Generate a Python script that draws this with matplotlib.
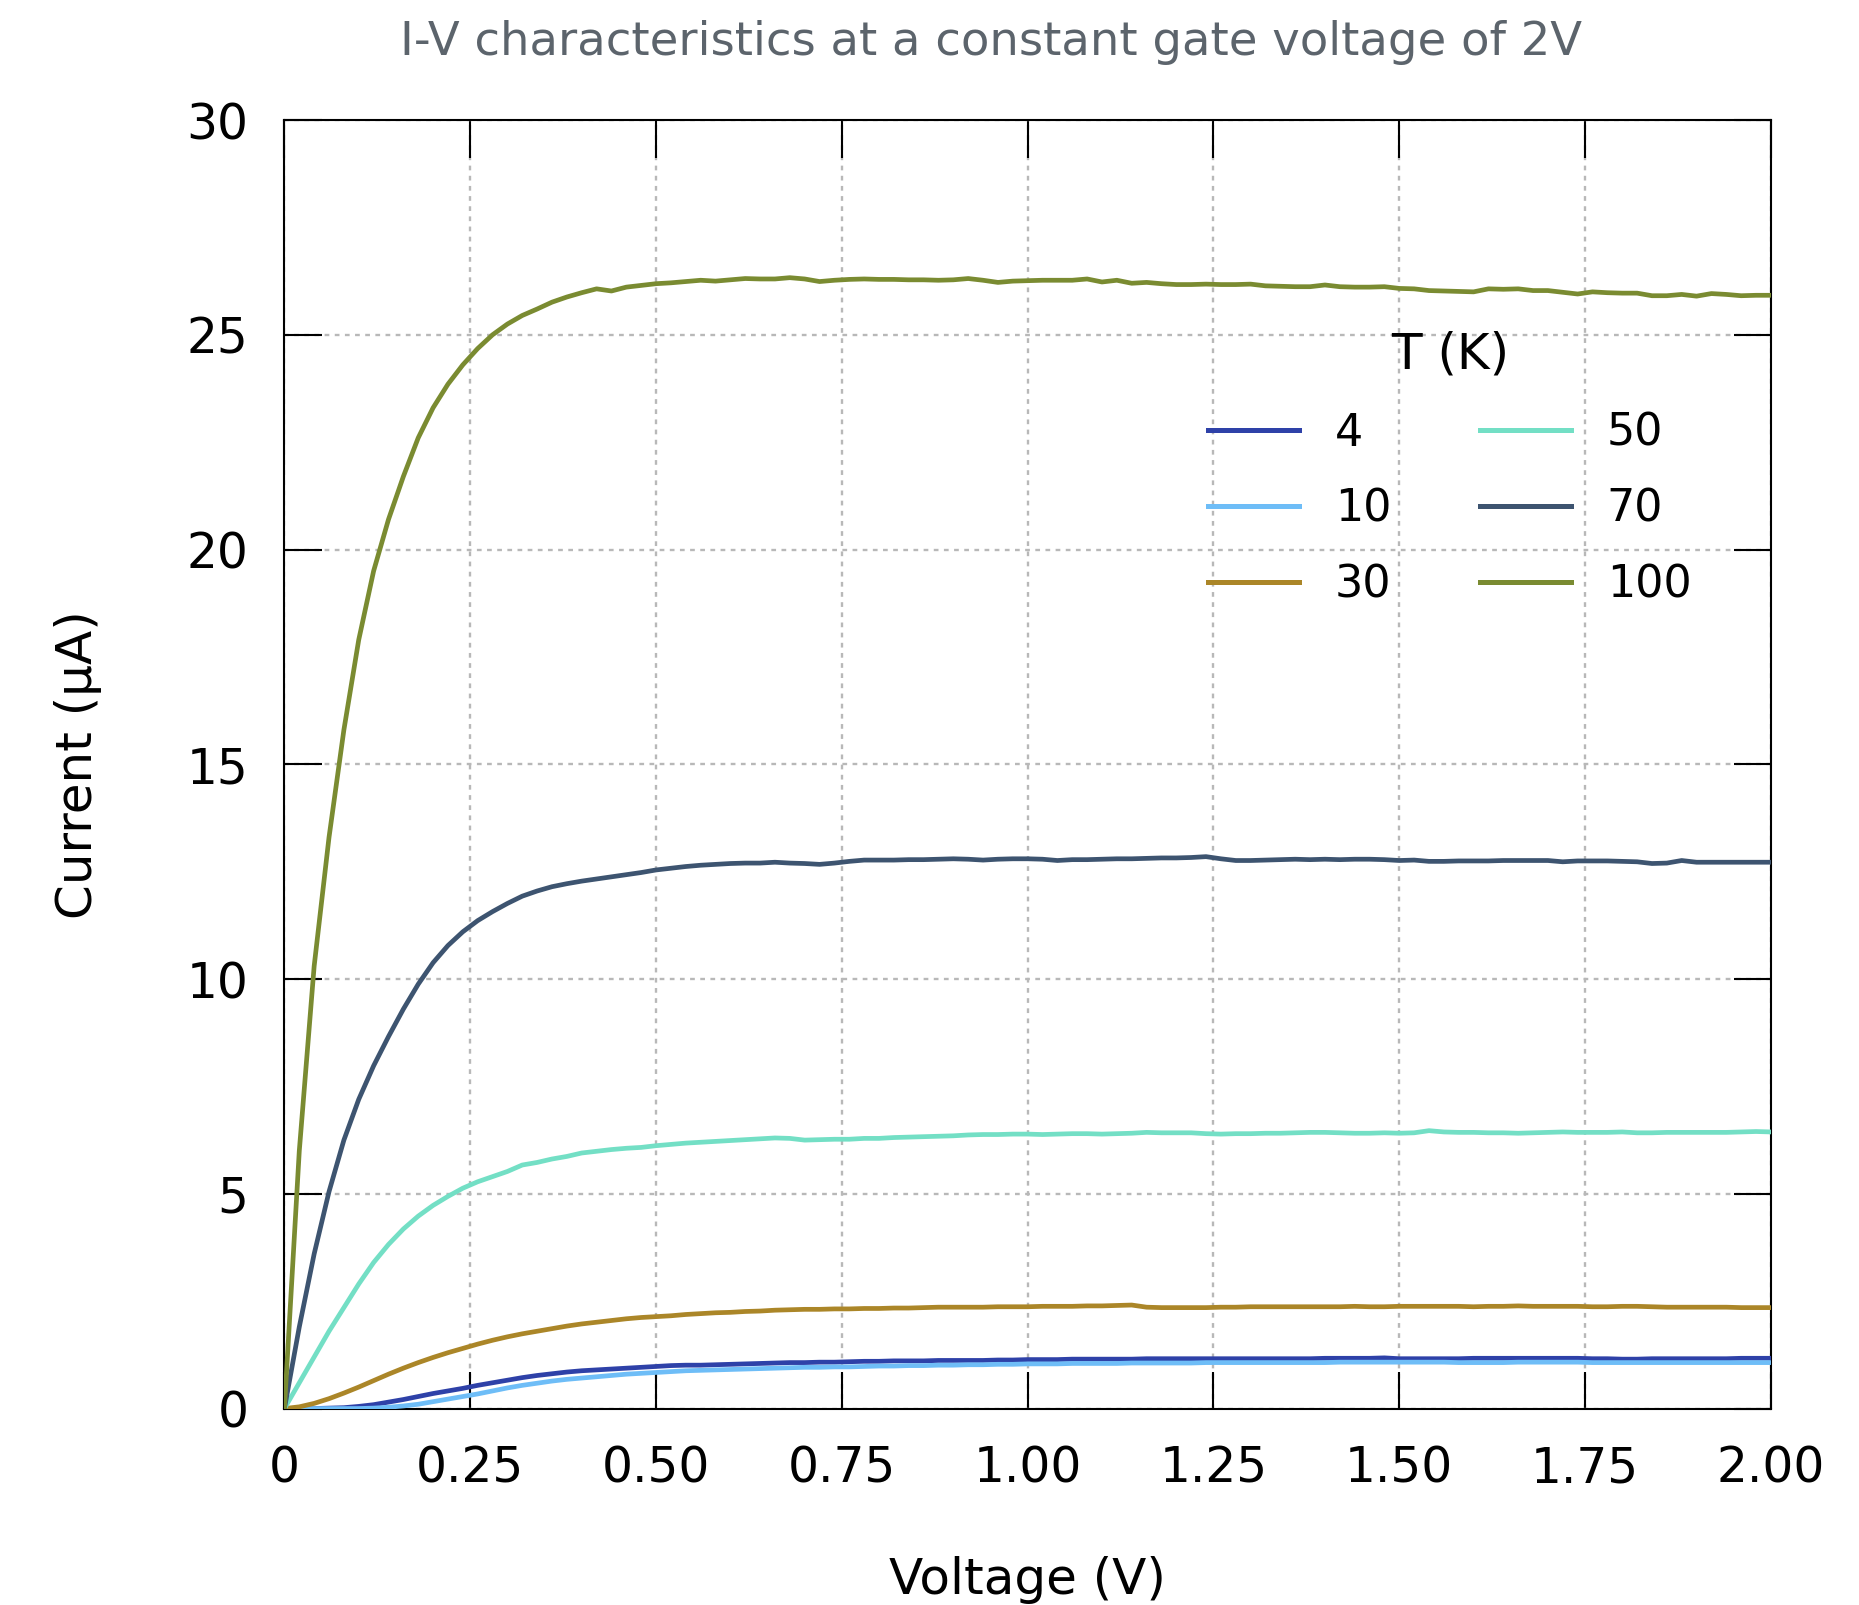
import numpy as np
import matplotlib
matplotlib.use("Agg")
import matplotlib.pyplot as plt

plt.rcParams["font.family"] = ["DejaVu Sans"]

# Voltage sweep (V), 0.02 V step
voltage = np.round(np.arange(0, 101) * 0.02, 2)

# Drain current (uA), one list per temperature
i_4K = [0, 0, 0, 0.01, 0.02, 0.05, 0.09, 0.15, 0.21, 0.28,
        0.35, 0.41, 0.47, 0.54, 0.60, 0.66, 0.72, 0.77, 0.81, 0.85,
        0.88, 0.90, 0.92, 0.94, 0.96, 0.98, 1.00, 1.01, 1.01, 1.02,
        1.03, 1.04, 1.05, 1.06, 1.07, 1.07, 1.08, 1.08, 1.09, 1.10,
        1.10, 1.11, 1.11, 1.11, 1.12, 1.12, 1.12, 1.12, 1.13, 1.13,
        1.14, 1.14, 1.14, 1.15, 1.15, 1.15, 1.15, 1.15, 1.16, 1.16,
        1.16, 1.16, 1.16, 1.16, 1.16, 1.16, 1.16, 1.16, 1.16, 1.16,
        1.17, 1.17, 1.17, 1.17, 1.18, 1.16, 1.16, 1.16, 1.16, 1.16,
        1.17, 1.17, 1.17, 1.17, 1.17, 1.17, 1.17, 1.17, 1.16, 1.16,
        1.15, 1.15, 1.16, 1.16, 1.16, 1.16, 1.16, 1.16, 1.17, 1.17,
        1.17]
i_10K = [0, 0, 0, 0, 0, 0, 0.01, 0.03, 0.06, 0.10,
         0.16, 0.22, 0.28, 0.34, 0.41, 0.48, 0.54, 0.59, 0.64, 0.68,
         0.71, 0.74, 0.77, 0.80, 0.82, 0.84, 0.86, 0.88, 0.89, 0.90,
         0.91, 0.92, 0.93, 0.94, 0.95, 0.96, 0.96, 0.97, 0.97, 0.98,
         0.99, 0.99, 1.00, 1.00, 1.01, 1.01, 1.02, 1.02, 1.03, 1.03,
         1.04, 1.04, 1.04, 1.05, 1.05, 1.05, 1.05, 1.06, 1.06, 1.06,
         1.06, 1.06, 1.07, 1.07, 1.07, 1.07, 1.07, 1.07, 1.07, 1.07,
         1.07, 1.08, 1.08, 1.08, 1.08, 1.08, 1.08, 1.08, 1.08, 1.07,
         1.07, 1.07, 1.07, 1.08, 1.08, 1.08, 1.08, 1.08, 1.07, 1.07,
         1.07, 1.07, 1.07, 1.07, 1.07, 1.07, 1.07, 1.07, 1.07, 1.07,
         1.07]
i_30K = [0, 0.04, 0.12, 0.23, 0.36, 0.50, 0.65, 0.80, 0.94, 1.07,
         1.19, 1.30, 1.40, 1.50, 1.59, 1.67, 1.74, 1.80, 1.86, 1.92,
         1.97, 2.01, 2.05, 2.09, 2.12, 2.14, 2.16, 2.19, 2.21, 2.23,
         2.24, 2.26, 2.27, 2.29, 2.30, 2.31, 2.31, 2.32, 2.32, 2.33,
         2.33, 2.34, 2.34, 2.35, 2.36, 2.36, 2.36, 2.36, 2.37, 2.37,
         2.37, 2.38, 2.38, 2.38, 2.39, 2.39, 2.40, 2.41, 2.36, 2.35,
         2.35, 2.35, 2.35, 2.36, 2.36, 2.37, 2.37, 2.37, 2.37, 2.37,
         2.37, 2.37, 2.38, 2.37, 2.37, 2.38, 2.38, 2.38, 2.38, 2.38,
         2.37, 2.38, 2.38, 2.39, 2.38, 2.38, 2.38, 2.38, 2.37, 2.37,
         2.38, 2.38, 2.37, 2.36, 2.36, 2.36, 2.36, 2.36, 2.35, 2.35,
         2.35]
i_50K = [0, 0.60, 1.20, 1.80, 2.35, 2.90, 3.40, 3.82, 4.18, 4.48,
         4.73, 4.94, 5.13, 5.28, 5.40, 5.52, 5.67, 5.73, 5.81, 5.87,
         5.95, 5.99, 6.03, 6.06, 6.08, 6.12, 6.15, 6.18, 6.20, 6.22,
         6.24, 6.26, 6.28, 6.30, 6.29, 6.25, 6.26, 6.27, 6.27, 6.29,
         6.29, 6.31, 6.32, 6.33, 6.34, 6.35, 6.37, 6.38, 6.38, 6.39,
         6.39, 6.38, 6.39, 6.40, 6.40, 6.39, 6.40, 6.41, 6.43, 6.42,
         6.42, 6.42, 6.40, 6.39, 6.40, 6.40, 6.41, 6.41, 6.42, 6.43,
         6.43, 6.42, 6.41, 6.41, 6.42, 6.41, 6.42, 6.47, 6.44, 6.43,
         6.43, 6.42, 6.42, 6.41, 6.42, 6.43, 6.44, 6.43, 6.43, 6.43,
         6.44, 6.42, 6.42, 6.43, 6.43, 6.43, 6.43, 6.43, 6.44, 6.45,
         6.44]
i_70K = [0, 1.90, 3.60, 5.05, 6.25, 7.20, 7.98, 8.66, 9.30, 9.88,
         10.38, 10.78, 11.10, 11.36, 11.57, 11.76, 11.93, 12.05, 12.15, 12.22,
         12.28, 12.33, 12.38, 12.43, 12.48, 12.54, 12.58, 12.62, 12.65, 12.67,
         12.69, 12.70, 12.70, 12.72, 12.70, 12.69, 12.67, 12.70, 12.74, 12.77,
         12.77, 12.77, 12.78, 12.78, 12.79, 12.80, 12.79, 12.77, 12.79, 12.80,
         12.80, 12.79, 12.76, 12.78, 12.78, 12.79, 12.80, 12.80, 12.81, 12.82,
         12.82, 12.83, 12.85, 12.80, 12.76, 12.76, 12.77, 12.78, 12.79, 12.78,
         12.79, 12.78, 12.79, 12.79, 12.78, 12.76, 12.77, 12.74, 12.74, 12.75,
         12.75, 12.75, 12.76, 12.76, 12.76, 12.76, 12.73, 12.75, 12.75, 12.75,
         12.74, 12.73, 12.69, 12.70, 12.76, 12.72, 12.72, 12.72, 12.72, 12.72,
         12.72]
i_100K = [0, 6.00, 10.30, 13.30, 15.80, 17.90, 19.50, 20.70, 21.70, 22.60,
          23.30, 23.85, 24.30, 24.68, 25.00, 25.25, 25.45, 25.60, 25.76, 25.88,
          25.98, 26.07, 26.02, 26.11, 26.15, 26.19, 26.21, 26.24, 26.27, 26.25,
          26.28, 26.31, 26.30, 26.30, 26.33, 26.30, 26.24, 26.27, 26.29, 26.30,
          26.29, 26.29, 26.28, 26.28, 26.27, 26.28, 26.31, 26.27, 26.22, 26.25,
          26.26, 26.27, 26.27, 26.27, 26.30, 26.23, 26.27, 26.20, 26.22, 26.19,
          26.17, 26.17, 26.18, 26.17, 26.17, 26.18, 26.14, 26.13, 26.12, 26.12,
          26.16, 26.12, 26.11, 26.11, 26.12, 26.08, 26.07, 26.03, 26.02, 26.01,
          26.00, 26.07, 26.06, 26.07, 26.03, 26.03, 25.99, 25.95, 26.00, 25.98,
          25.97, 25.97, 25.91, 25.91, 25.94, 25.90, 25.96, 25.94, 25.91, 25.92,
          25.92]

temps = ["4", "10", "30", "50", "70", "100"]
currents = [i_4K, i_10K, i_30K, i_50K, i_70K, i_100K]
colors = ["#2e41a8", "#6ebdf7", "#ab8628", "#73dfc5", "#3d5470", "#7a8b31"]

x_ticks = [0, 0.25, 0.5, 0.75, 1.0, 1.25, 1.5, 1.75, 2.0]
x_ticklabels = ["0", "0.25", "0.50", "0.75", "1.00", "1.25", "1.50", "1.75", "2.00"]
y_ticks = [0, 5, 10, 15, 20, 25, 30]

fig = plt.figure(figsize=(18.59, 16.05), dpi=100)
ax = fig.add_axes([0.153, 0.1224, 0.7996, 0.8028])

for t, cur, c in zip(temps, currents, colors):
    ax.plot(voltage, cur, color=c, linewidth=3.4, label=t, zorder=3)

ax.set_xlim(0, 2)
ax.set_ylim(0, 30)
ax.set_xticks(x_ticks)
ax.set_xticklabels(x_ticklabels)
ax.set_yticks(y_ticks)

ax.grid(True, color="#b8b8b8", linewidth=1.7, linestyle=(0, (2, 2.3)))
ax.tick_params(direction="in", length=27, width=1.5, top=True, right=True,
               labelsize=35, pad=26, color="black")
for s in ax.spines.values():
    s.set_linewidth(1.5)

ax.set_xlabel("Voltage (V)", fontsize=36)
ax.xaxis.set_label_coords(0.5, -0.133)
ax.xaxis.label.set_va("center")
ax.set_ylabel("Current (μA)", fontsize=36)
ax.yaxis.set_label_coords(-0.139, 0.5)
ax.yaxis.label.set_va("center")

fig.text(0.533, 0.9735, "I-V characteristics at a constant gate voltage of 2V",
         fontsize=33.5, color="#5c646c", ha="center", va="center")

leg = ax.legend(title="T (K)", ncol=2, frameon=False, fontsize=32,
                title_fontsize=36, loc="upper left",
                bbox_to_anchor=(0.6498, 0.794), bbox_transform=fig.transFigure,
                borderpad=0, borderaxespad=0, handlelength=2.05,
                handletextpad=0.8, columnspacing=2.0, labelspacing=0.74)
for line in leg.get_lines():
    line.set_linewidth(3.6)

fig.savefig("out.png", dpi=100)
